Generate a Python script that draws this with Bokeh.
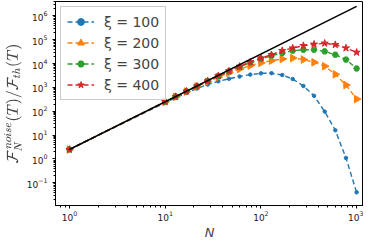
import math
from bokeh.plotting import figure
from bokeh.models import Range1d, Legend, LegendItem
from bokeh.embed import file_html
from bokeh.resources import INLINE

# Data
N = [1, 10, 12.9, 16.7, 21.5, 27.8, 35.9, 46.4, 59.9, 77.4,
     100, 129, 167, 215, 278, 359, 464, 599, 774, 1000]
xi_100 = [2.5, 230, 366, 585, 900, 1310, 1800, 2300, 2870, 3440,
          3900, 3950, 3300, 2240, 1150, 445, 97, 16, 1.1, 0.04]
xi_200 = [2.5, 245, 404, 670, 1090, 1740, 2700, 4100, 5900, 8200,
          10700, 13300, 15500, 17000, 14700, 11300, 7760, 3550, 1260, 324]
xi_300 = [2.5, 248, 412, 683, 1120, 1835, 2960, 4680, 7180, 10800,
          15500, 21500, 27500, 34700, 38000, 38000, 32400, 23500, 14700, 6200]
xi_400 = [2.5, 250, 414, 690, 1130, 1870, 3030, 4840, 7600, 11700,
          17000, 23500, 34700, 44700, 56200, 64600, 70800, 61700, 44700, 29500]
ref_N = [1, 1000]
ref_F = [2.5, 2.5e6]

labels = ["ξ = 100", "ξ = 200", "ξ = 300", "ξ = 400"]
colors = ["#1f77b4", "#ff7f0e", "#2ca02c", "#d62728"]

p = figure(frame_width=308, frame_height=204, x_axis_type="log", y_axis_type="log",
           output_backend="svg", toolbar_location=None,
           x_range=Range1d(0.715, 1180), y_range=Range1d(0.0112, 4.0e6),
           min_border_left=0, min_border_right=0, min_border_top=1, min_border_bottom=0)
p.xgrid.visible = False
p.ygrid.visible = False
p.outline_line_color = "black"
p.outline_line_width = 1
p.background_fill_color = "white"
p.border_fill_color = "white"

series = [xi_100, xi_200, xi_300, xi_400]
markers = [("circle", 3.5, 0), ("triangle", 7.5, -math.pi / 2), ("hex", 6, 0), ("star", 7.5, 0)]
items = []
for ys, lab, col, (mk, sz, ang) in zip(series, labels, colors, markers):
    r1 = p.line(N, ys, line_color=col, line_width=1.4, line_dash="5 3")
    r2 = p.scatter(N, ys, marker=mk, size=sz, angle=ang, fill_color=col, line_color=col)
    items.append(LegendItem(label=lab, renderers=[r1, r2]))

p.line(ref_N, ref_F, line_color="black", line_width=1.5)

legend = Legend(items=items, location="top_left", label_text_font="DejaVu Sans",
                label_text_font_size="14px", border_line_color="#cccccc",
                border_line_alpha=1, background_fill_alpha=0.8,
                glyph_width=27, glyph_height=17, label_height=17, spacing=4,
                padding=6, margin=5, label_standoff=10)
p.add_layout(legend)

for ax in (p.xaxis, p.yaxis):
    ax.major_label_text_font = "DejaVu Sans"
    ax.major_label_text_font_size = "9px"
    ax.major_label_text_color = "#222222"
    ax.major_tick_out = 3
    ax.major_tick_in = 0
    ax.minor_tick_out = 2
    ax.minor_tick_in = 0
    ax.axis_line_color = "black"
    ax.axis_label_text_font = "DejaVu Sans"
    ax.axis_label_text_font_style = "italic"
    ax.axis_label_text_font_size = "13px"

p.xaxis.axis_label = "N"
p.xaxis.axis_label_standoff = 1
p.xaxis.major_label_standoff = 2
p.yaxis.axis_label = r"$$\mathcal{F}_N^{noise}(T)/\mathcal{F}_{th}(T)$$"
p.yaxis.axis_label_standoff = 2

open("out.html", "w").write(file_html(p, INLINE))
